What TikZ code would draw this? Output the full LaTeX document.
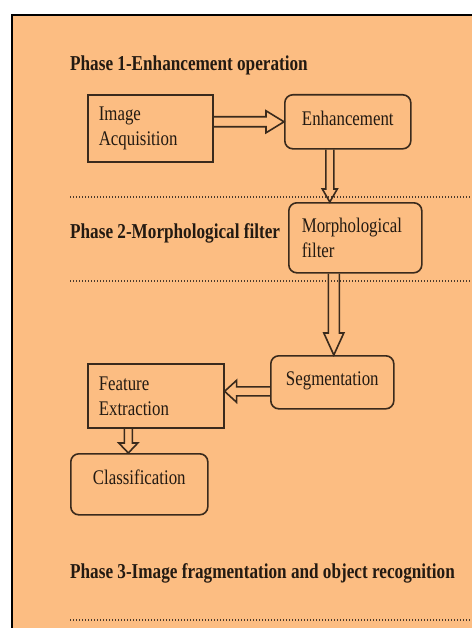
\documentclass[tikz,border=0pt]{standalone}
\usepackage{fontspec}
\setmainfont[FakeStretch=0.81]{Liberation Serif}
\usetikzlibrary{calc}
\definecolor{bgorange}{HTML}{FCBD82}
\definecolor{inkbrown}{HTML}{3A2A1C}
\definecolor{dotgray}{HTML}{4A3A2C}
\definecolor{textink}{HTML}{231A12}
\newcommand\hollowarrow[5]{%
  \path ($(#2)!#5!(#1)$) coordinate (hb);
  \draw[arrowline] ($(#1)!#3!90:(#2)$) -- ($(hb)!#3!90:(#2)$) -- ($(hb)!#4!90:(#2)$) -- (#2)
    -- ($(hb)!#4!-90:(#2)$) -- ($(hb)!#3!-90:(#2)$) -- ($(#1)!#3!-90:(#2)$);
}
\tikzset{
  boxbase/.style={draw=inkbrown, line width=1.6bp, text=textink, font=\fontsize{20.8bp}{25bp}\selectfont, anchor=north west},
  sharpbox/.style={boxbase},
  roundbox/.style={boxbase, rounded corners=8bp},
  multiline/.style={align=left, inner xsep=11bp, inner ysep=0bp},
  singleline/.style={inner sep=0bp, text height=12bp, text depth=5bp},
  phaselabel/.style={anchor=base west, inner sep=0bp, text=textink, font=\fontsize{21.2bp}{25bp}\selectfont\bfseries},
  arrowline/.style={draw=inkbrown, line width=1.6bp, line join=miter},
  dotline/.style={draw=dotgray, line width=1.2bp, dash pattern=on 1.2bp off 1.8bp},
}
\begin{document}
\begin{tikzpicture}[x=1bp,y=-1bp]
\useasboundingbox (0,0) rectangle (472,628);
\fill[white] (0,0) rectangle (472,628);
\fill[bgorange] (12,15) rectangle (472,628);
\draw[black, line width=2.5bp] (12,628) -- (12,15) -- (472,15);

% phase labels
\node[phaselabel] (p1) at (70,71) {Phase 1-Enhancement operation};
\node[phaselabel] (p2) at (70,238) {Phase 2-Morphological filter};
\node[phaselabel] (p3) at (70,578) {Phase 3-Image fragmentation and object recognition};

% dotted separators
\coordinate (d1a) at (70,197); \coordinate (d1b) at (472,197);
\coordinate (d2a) at (70,281); \coordinate (d2b) at (472,281);
\coordinate (d3a) at (70,620); \coordinate (d3b) at (472,620);
\draw[dotline] (d1a) -- (d1b);
\draw[dotline] (d2a) -- (d2b);
\draw[dotline] (d3a) -- (d3b);

% boxes
\node[sharpbox, multiline, text width=103bp, minimum height=67bp] (ia) at (87,94) {Image\\Acquisition};
\node[roundbox, singleline, minimum width=126bp, minimum height=54bp] (enh) at (284,94) {Enhancement};
\node[roundbox, multiline, inner xsep=13bp, text width=107bp, minimum height=70bp] (morph) at (288,202) {Morphological\\filter};
\node[roundbox, singleline, minimum width=123bp, minimum height=53bp] (seg) at (270,355) {Segmentation};
\node[sharpbox, multiline, text width=114bp, minimum height=64bp] (fe) at (87,363) {Feature\\Extraction};
\node[roundbox, inner sep=0bp, text height=11bp, text depth=11bp, minimum width=137bp, minimum height=61bp] (cls) at (70,453) {Classification};

% hollow arrows
\coordinate (a1s) at (ia.east |- enh.west);
\hollowarrow{a1s}{enh.west}{5bp}{11bp}{18bp}

\coordinate (a2s) at ($(enh.south)+(-18,0)$);
\coordinate (a2e) at (a2s |- morph.north);
\hollowarrow{a2s}{a2e}{4bp}{7.5bp}{13bp}

\coordinate (a3s) at ($(morph.south)+(-21.5,0)$);
\coordinate (a3e) at (a3s |- seg.north);
\hollowarrow{a3s}{a3e}{5.5bp}{10bp}{22bp}

\coordinate (a4s) at ($(seg.west)+(0,9)$);
\coordinate (a4e) at (fe.east |- a4s);
\hollowarrow{a4s}{a4e}{4.5bp}{11bp}{12bp}

\coordinate (a5s) at ($(fe.south)+(-27.5,0)$);
\coordinate (a5e) at (a5s |- cls.north);
\hollowarrow{a5s}{a5e}{4bp}{9.5bp}{10bp}
\end{tikzpicture}
\end{document}
